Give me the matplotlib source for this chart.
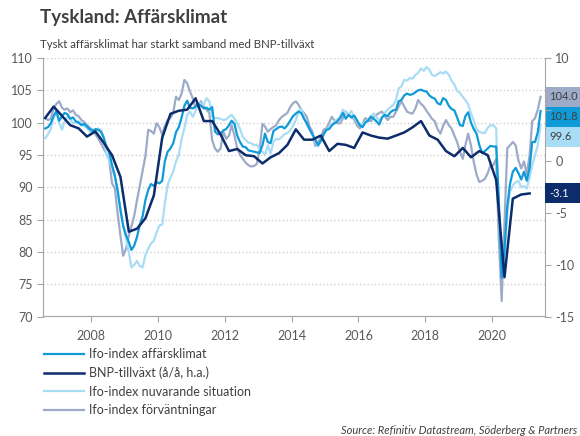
import matplotlib.pyplot as plt
import matplotlib.dates as mdates
from matplotlib.patches import Rectangle
import pandas as pd

plt.rcParams['font.family'] = ['Lato', 'DejaVu Sans']

# monthly Ifo series, Aug 2006 - Jun 2021
klimat = [99.1, 99.3, 99.9, 101.0, 101.8,
          100.3, 101.0, 101.5, 101.3, 100.6, 100.8, 100.2, 100.0, 99.6, 99.8, 99.4, 99.0,
          98.7, 99.0, 98.9, 98.6, 97.7, 96.3, 95.4, 93.4, 91.8, 89.5, 86.5, 84.0,
          82.6, 81.5, 80.3, 81.0, 82.3, 84.2, 85.5, 88.0, 89.6, 90.5, 90.2, 90.8,
          90.6, 91.0, 94.0, 95.5, 96.0, 96.8, 98.5, 99.3, 100.8, 102.6, 103.4, 102.3,
          102.2, 102.5, 102.9, 102.6, 102.2, 102.3, 102.0, 102.4, 98.6, 98.2, 98.3, 98.8,
          99.0, 99.6, 100.3, 99.8, 98.0, 97.0, 96.3, 96.2, 95.7, 95.6, 95.5, 95.4,
          95.3, 96.5, 98.3, 97.0, 96.8, 98.7, 99.0, 99.3, 99.4, 99.1, 99.6, 100.3,
          101.0, 101.4, 101.7, 101.5, 100.6, 99.9, 99.0, 98.2, 97.4, 96.5, 97.2, 98.2,
          98.9, 99.0, 99.6, 99.9, 100.2, 100.7, 101.5, 100.6, 101.2, 100.8, 101.1, 100.4,
          99.6, 99.3, 100.0, 100.3, 100.9, 100.6, 100.2, 99.7, 100.8, 101.2, 101.0, 101.6,
          101.9, 102.0, 103.3, 103.5, 104.2, 104.5, 104.3, 104.4, 104.7, 105.0, 105.1, 104.9,
          104.8, 104.2, 103.9, 103.7, 103.0, 102.8, 103.8, 103.5, 102.6, 102.1, 101.9, 100.8,
          99.6, 99.5, 101.0, 101.6, 100.0, 99.0, 98.3, 96.5, 95.3, 95.6, 96.0, 96.4,
          96.3, 96.3, 88.0, 76.0, 80.0, 87.0, 90.5, 92.4, 93.0, 92.2, 91.2, 92.4,
          91.0, 93.0, 97.0, 97.0, 98.5, 101.8]

situation = [97.6, 98.2, 99.0, 101.0, 101.4,
             100.0, 98.9, 100.2, 100.9, 100.5, 99.9, 100.0, 100.2, 99.9, 99.5, 99.1, 98.6,
             98.6, 98.8, 99.1, 98.9, 97.8, 95.0, 94.2, 92.9, 91.5, 89.3, 86.5, 84.1,
             82.0, 79.9, 77.6, 78.0, 78.6, 77.8, 77.6, 79.5, 80.5, 81.3, 81.7, 83.0,
             84.1, 84.2, 87.5, 90.3, 91.5, 92.4, 94.0, 95.0, 97.5, 99.1, 101.2, 101.7,
             100.9, 101.8, 103.0, 103.0, 102.8, 103.8, 103.3, 101.0, 100.7, 100.7, 100.6, 100.4,
             100.5, 100.9, 101.2, 100.6, 99.9, 99.0, 97.8, 97.3, 96.9, 96.8, 96.5, 96.6,
             95.8, 95.5, 95.0, 96.5, 95.2, 97.0, 97.5, 97.4, 97.8, 98.2, 98.4, 98.8,
             99.5, 100.4, 101.7, 102.2, 101.0, 99.6, 99.0, 98.1, 97.2, 96.3, 97.0, 98.0,
             98.9, 99.3, 99.5, 100.2, 100.5, 101.0, 102.0, 101.5, 101.2, 101.8, 100.8, 100.2,
             99.6, 99.8, 100.1, 100.4, 101.0, 101.4, 100.8, 100.3, 100.9, 101.5, 102.0, 102.4,
             102.7, 103.5, 105.3, 105.6, 106.6, 106.5, 106.9, 106.8, 107.4, 107.7, 108.4, 108.0,
             108.6, 108.2, 107.4, 107.2, 107.5, 107.8, 107.6, 107.9, 107.4, 106.5, 105.9, 104.9,
             104.6, 104.0, 103.5, 102.8, 101.5, 100.3, 99.0, 98.6, 98.4, 98.4, 99.2, 99.6,
             99.6, 99.1, 87.0, 77.0, 79.4, 86.0, 89.3, 90.3, 90.8, 91.0, 90.0, 90.2,
             89.8, 91.5, 93.4, 95.0, 96.5, 99.6]

expectations = [100.7, 100.4, 100.6, 102.2, 102.9,
                103.3, 102.3, 102.0, 102.2, 101.6, 101.9, 101.2, 101.0, 100.4, 100.1, 99.6, 99.2,
                98.9, 98.2, 97.6, 96.8, 96.0, 95.2, 94.2, 90.6, 89.8, 86.0, 82.5, 79.4,
                80.5, 82.5, 84.0, 85.6, 88.0, 90.3, 92.5, 94.8, 98.9, 98.7, 98.3, 99.9,
                99.3, 98.1, 99.5, 100.4, 100.7, 101.5, 104.0, 103.5, 104.5, 106.6, 106.1, 104.8,
                103.8, 102.2, 102.6, 103.3, 102.5, 102.0, 101.5, 97.3, 96.0, 95.5, 96.0, 98.6,
                97.5, 98.0, 99.6, 98.0, 96.0, 95.0, 94.4, 93.8, 93.4, 93.2, 93.3, 93.6,
                95.8, 99.8, 99.4, 98.6, 99.0, 99.3, 99.6, 100.4, 100.9, 101.2, 101.5, 102.4,
                103.0, 103.3, 102.8, 102.0, 101.5, 100.9, 99.4, 98.6, 96.4, 97.0, 97.6, 98.9,
                99.1, 100.0, 100.9, 100.3, 99.9, 99.9, 100.7, 101.7, 101.2, 100.9, 100.5, 99.6,
                99.1, 99.8, 100.7, 100.4, 100.2, 100.9, 101.2, 101.5, 101.7, 101.0, 100.4, 100.9,
                100.9, 101.7, 102.5, 103.3, 102.5, 101.7, 101.5, 101.4, 102.2, 103.5, 102.9, 102.5,
                101.8, 101.2, 100.6, 100.2, 99.0, 98.3, 99.5, 100.4, 99.6, 99.1, 98.0, 97.0,
                95.5, 94.4, 96.5, 98.3, 96.5, 93.9, 92.0, 90.8, 91.0, 91.3, 92.2, 93.4,
                93.4, 94.4, 82.0, 72.4, 84.0, 96.0, 96.5, 97.0, 96.5, 94.2, 92.9, 94.0,
                92.0, 95.0, 100.2, 100.7, 102.0, 104.0]

# quarterly GDP growth y/y, Q3 2006 - Q1 2021
bnp = [4.2, 5.3,
       4.4, 3.5, 3.2, 2.4,
       2.9, 1.8, 0.6, -1.5,
       -6.8, -6.5, -5.5, -3.3,
       2.3, 4.6, 4.9, 5.0,
       6.1, 3.9, 3.9, 2.6,
       1.0, 1.2, 0.6, 0.5,
       -0.2, 0.4, 0.8, 1.6,
       3.1, 2.1, 2.1, 2.5,
       1.0, 1.7, 1.6, 1.3,
       2.8, 2.5, 2.3, 2.2,
       2.5, 2.8, 3.3, 3.9,
       2.5, 2.1, 1.0, 0.5,
       1.3, 0.4, 1.0, 0.6,
       -1.8, -11.2, -3.6, -3.2,
       -3.1]

months = pd.date_range('2006-08-01', '2021-06-01', freq='MS') + pd.Timedelta(days=14)
quarters = pd.date_range('2006-07-01', '2021-01-01', freq='QS') + pd.Timedelta(days=45)

c_klimat = '#0e9bd8'
c_bnp = '#0c2c6b'
c_sit = '#a9ddf5'
c_exp = '#9eabc8'
c_txt = '#595959'

fig = plt.figure(figsize=(5.8, 4.36), dpi=100)
ax = fig.add_axes([43 / 580, 1 - 316.5 / 436, 502 / 580, 258.5 / 436])
ax2 = ax.twinx()

l_exp, = ax.plot(months, expectations, color=c_exp, lw=1.6, zorder=2)
l_sit, = ax.plot(months, situation, color=c_sit, lw=1.6, zorder=3)
l_kl, = ax.plot(months, klimat, color=c_klimat, lw=1.6, zorder=4)
l_bnp, = ax2.plot(quarters, bnp, color=c_bnp, lw=1.8, zorder=5)

ax.set_ylim(70, 110)
ax2.set_ylim(-15, 10)
ax.set_yticks(range(70, 111, 5))
ax2.set_yticks(range(-15, 11, 5))
# the 5 on the right axis sits behind the value boxes
ax2.set_yticklabels(['-15', '-10', '-5', '0', '', '10'])
ax.set_xlim(pd.Timestamp('2006-07-22'), pd.Timestamp('2021-08-02'))
ax.xaxis.set_major_locator(mdates.YearLocator(2))
ax.xaxis.set_major_formatter(mdates.DateFormatter('%Y'))

ax.grid(axis='y', color='#d0d0d0', ls=':', lw=1)
ax.set_axisbelow(True)

for a in (ax, ax2):
    a.spines['top'].set_visible(False)
    for s in ('left', 'right', 'bottom'):
        a.spines[s].set_color('#a6a6a6')
    a.tick_params(colors='#a6a6a6', labelcolor=c_txt, labelsize=9, length=4)
ax2.spines['left'].set_visible(False)
ax.spines['right'].set_visible(False)
ax.tick_params(axis='x', pad=6)

# value boxes at the right edge, stacked 3.1 units apart on the left scale
def value_box(a, center, half, text, fc, tc):
    tr = a.get_yaxis_transform()
    a.add_patch(Rectangle((1, center - half), 0.1, 2 * half, transform=tr,
                          fc=fc, ec='none', clip_on=False, zorder=6))
    a.annotate(text, xy=(1, center), xycoords=tr, xytext=(3, 0), textcoords='offset points',
               va='center', ha='left', fontsize=8, color=tc, annotation_clip=False, zorder=7)

value_box(ax, expectations[-1], 1.55, '104.0', c_exp, '#404040')
value_box(ax, expectations[-1] - 3.1, 1.55, '101.8', c_klimat, '#404040')
value_box(ax, expectations[-1] - 6.2, 1.55, '99.6', c_sit, '#404040')
value_box(ax2, bnp[-1], 0.97, '-3.1', c_bnp, 'white')

fig.text(40 / 580, 1 - 18 / 436, 'Tyskland: Affärsklimat', fontsize=13.5, fontweight='bold',
         color='#404040', va='center', ha='left')
fig.text(40 / 580, 1 - 44 / 436, 'Tyskt affärsklimat har starkt samband med BNP-tillväxt',
         fontsize=8.2, color='#404040', va='center', ha='left')

fig.legend([l_kl, l_bnp, l_sit, l_exp],
           ['Ifo-index affärsklimat', 'BNP-tillväxt (å/å, h.a.)',
            'Ifo-index nuvarande situation', 'Ifo-index förväntningar'],
           loc='upper left', bbox_to_anchor=(44 / 580, 1 - 348 / 436), frameon=False,
           fontsize=9, handlelength=3.2, handletextpad=0.4, labelspacing=0.52,
           borderpad=0, borderaxespad=0, labelcolor='#404040')

fig.text(577 / 580, 1 - 430 / 436, 'Source: Refinitiv Datastream, Söderberg & Partners',
         fontsize=8, style='italic', color='#404040', ha='right', va='center')

fig.savefig('out.png', dpi=100)
